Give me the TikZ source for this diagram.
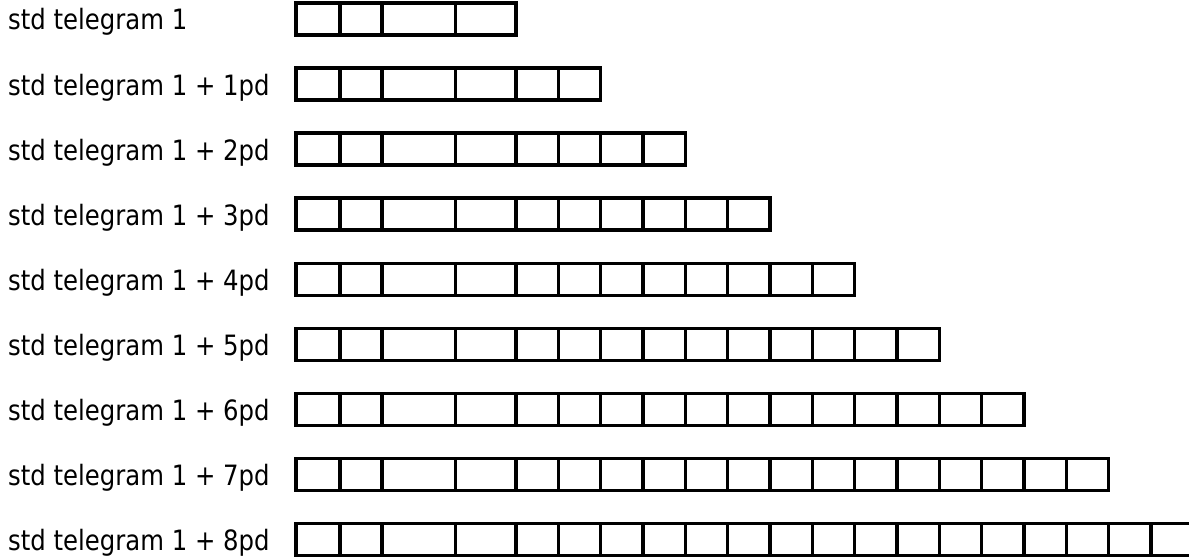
\documentclass[tikz,border=0pt]{standalone}
\usepackage{fontspec}
\setmainfont[FakeStretch=0.87]{DejaVu Sans}
\usetikzlibrary{positioning}

\tikzset{
  field/.style={draw, line width=3.4pt, outer sep=0pt, inner sep=0pt, minimum height=32pt, anchor=west},
  rowlabel/.style={anchor=base west, inner sep=0pt, font=\fontsize{28}{32}\selectfont},
}

\begin{document}
\begin{tikzpicture}[x=1pt, y=-1pt]
  \useasboundingbox (0,0) rectangle (1189,559);
  \foreach \nr in {0,...,8} {
    \pgfmathsetmacro{\ytop}{3+65.05*\nr}
    \pgfmathtruncatemacro{\nfields}{4+2*\nr}
    % row label
    \ifnum\nr=0
      \node[rowlabel] (lab\nr) at (8,\ytop+27) {std telegram 1};
    \else
      \node[rowlabel] (lab\nr) at (8,\ytop+27) {std telegram 1 + \nr pd};
    \fi
    % the four fixed fields
    \node[field, minimum width=44pt] (f\nr-1) at (296,\ytop+16) {};
    \node[field, minimum width=42pt, right=0pt of f\nr-1] (f\nr-2) {};
    \node[field, minimum width=73.5pt, right=0pt of f\nr-2] (f\nr-3) {};
    \node[field, minimum width=60.5pt, right=0pt of f\nr-3] (f\nr-4) {};
    % the pd fields
    \ifnum\nfields>4
      \foreach \i [evaluate=\i as \prev using int(\i-1)] in {5,...,\nfields}
        \node[field, minimum width=42.33pt, right=0pt of f\nr-\prev] (f\nr-\i) {};
    \fi
  }
\end{tikzpicture}
\end{document}
